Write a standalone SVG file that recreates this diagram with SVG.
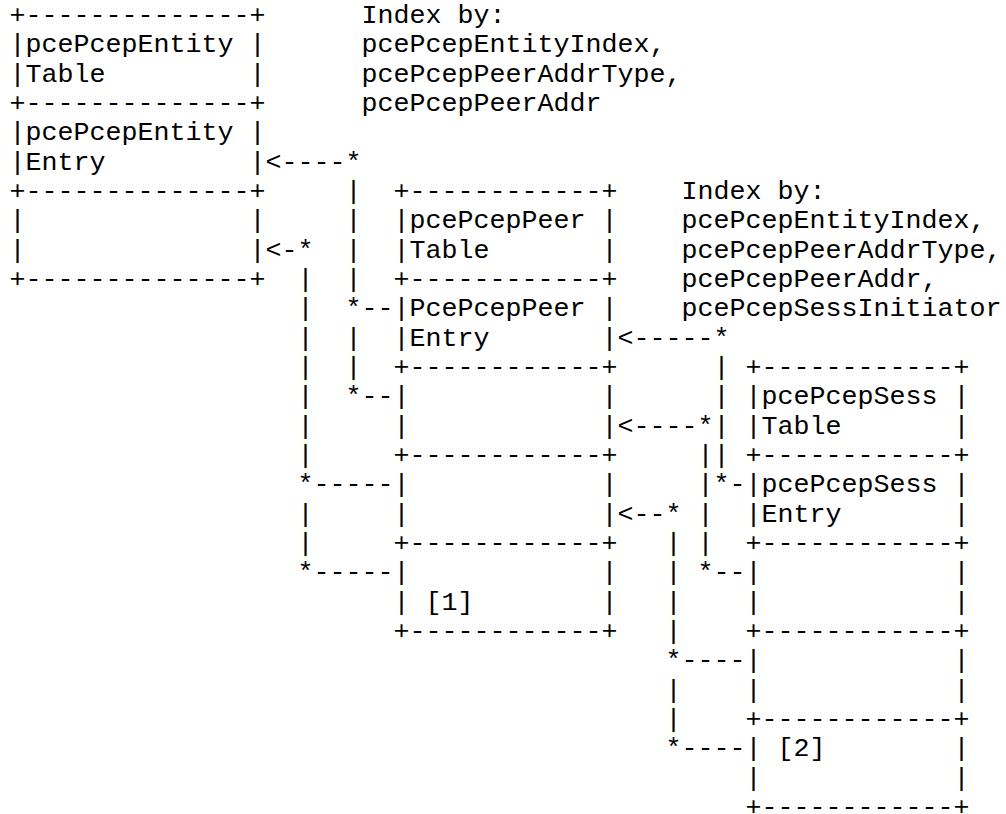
<svg xmlns="http://www.w3.org/2000/svg" width="1006" height="814" viewBox="0 0 1006 814">
<style>
text { font-family: "Liberation Mono", "DejaVu Sans Mono", monospace; font-size: 26.667px; fill: #000; white-space: pre; }
</style>
<rect width="1006" height="814" fill="#fff"/>
<g id="pcePcepEntityTable">
<text xml:space="preserve"><tspan x="9.5" y="23">+--------------+</tspan><tspan x="9.5" y="52.33">|pcePcepEntity |</tspan><tspan x="9.5" y="81.67">|Table         |</tspan><tspan x="9.5" y="111">+--------------+</tspan><tspan x="9.5" y="140.33">|pcePcepEntity |</tspan><tspan x="9.5" y="169.67">|Entry         |</tspan><tspan x="9.5" y="199">+--------------+</tspan><tspan x="9.5" y="228.33">|              |</tspan><tspan x="9.5" y="257.67">|              |</tspan><tspan x="9.5" y="287">+--------------+</tspan></text>
</g>
<g id="entityIndex">
<text xml:space="preserve"><tspan x="361.5" y="23">Index by:</tspan><tspan x="361.5" y="52.33">pcePcepEntityIndex,</tspan><tspan x="361.5" y="81.67">pcePcepPeerAddrType,</tspan><tspan x="361.5" y="111">pcePcepPeerAddr</tspan></text>
</g>
<g id="pcePcepPeerTable">
<text xml:space="preserve"><tspan x="393.5" y="199">+------------+</tspan><tspan x="393.5" y="228.33">|pcePcepPeer |</tspan><tspan x="393.5" y="257.67">|Table       |</tspan><tspan x="393.5" y="287">+------------+</tspan><tspan x="393.5" y="316.33">|PcePcepPeer |</tspan><tspan x="393.5" y="345.67">|Entry       |</tspan><tspan x="393.5" y="375">+------------+</tspan><tspan x="393.5" y="404.33">|            |</tspan><tspan x="393.5" y="433.67">|            |</tspan><tspan x="393.5" y="463">+------------+</tspan><tspan x="393.5" y="492.33">|            |</tspan><tspan x="393.5" y="521.67">|            |</tspan><tspan x="393.5" y="551">+------------+</tspan><tspan x="393.5" y="580.33">|            |</tspan><tspan x="393.5" y="609.67">| [1]        |</tspan><tspan x="393.5" y="639">+------------+</tspan></text>
</g>
<g id="peerIndex">
<text xml:space="preserve"><tspan x="681.5" y="199">Index by:</tspan><tspan x="681.5" y="228.33">pcePcepEntityIndex,</tspan><tspan x="681.5" y="257.67">pcePcepPeerAddrType,</tspan><tspan x="681.5" y="287">pcePcepPeerAddr,</tspan><tspan x="681.5" y="316.33">pcePcepSessInitiator</tspan></text>
</g>
<g id="pcePcepSessTable">
<text xml:space="preserve"><tspan x="745.5" y="375">+------------+</tspan><tspan x="745.5" y="404.33">|pcePcepSess |</tspan><tspan x="745.5" y="433.67">|Table       |</tspan><tspan x="745.5" y="463">+------------+</tspan><tspan x="745.5" y="492.33">|pcePcepSess |</tspan><tspan x="745.5" y="521.67">|Entry       |</tspan><tspan x="745.5" y="551">+------------+</tspan><tspan x="745.5" y="580.33">|            |</tspan><tspan x="745.5" y="609.67">|            |</tspan><tspan x="745.5" y="639">+------------+</tspan><tspan x="745.5" y="668.33">|            |</tspan><tspan x="745.5" y="697.67">|            |</tspan><tspan x="745.5" y="727">+------------+</tspan><tspan x="745.5" y="756.33">| [2]        |</tspan><tspan x="745.5" y="785.67">|            |</tspan><tspan x="745.5" y="815">+------------+</tspan></text>
</g>
<g id="connectors">
<text xml:space="preserve"><tspan x="265.5" y="169.67">&lt;----*</tspan><tspan x="345.5" y="199">|</tspan><tspan x="345.5" y="228.33">|</tspan><tspan x="345.5" y="257.67">|</tspan><tspan x="345.5" y="287">|</tspan><tspan x="345.5" y="316.33">*--</tspan><tspan x="345.5" y="345.67">|</tspan><tspan x="345.5" y="375">|</tspan><tspan x="345.5" y="404.33">*--</tspan></text>
<text xml:space="preserve"><tspan x="265.5" y="257.67">&lt;-*</tspan><tspan x="297.5" y="287">|</tspan><tspan x="297.5" y="316.33">|</tspan><tspan x="297.5" y="345.67">|</tspan><tspan x="297.5" y="375">|</tspan><tspan x="297.5" y="404.33">|</tspan><tspan x="297.5" y="433.67">|</tspan><tspan x="297.5" y="463">|</tspan><tspan x="297.5" y="492.33">*-----</tspan><tspan x="297.5" y="521.67">|</tspan><tspan x="297.5" y="551">|</tspan><tspan x="297.5" y="580.33">*-----</tspan></text>
<text xml:space="preserve"><tspan x="617.5" y="345.67">&lt;-----*</tspan><tspan x="713.5" y="375">|</tspan><tspan x="713.5" y="404.33">|</tspan><tspan x="713.5" y="433.67">|</tspan><tspan x="713.5" y="463">|</tspan><tspan x="713.5" y="492.33">*-</tspan></text>
<text xml:space="preserve"><tspan x="617.5" y="433.67">&lt;----*</tspan><tspan x="697.5" y="463">|</tspan><tspan x="697.5" y="492.33">|</tspan><tspan x="697.5" y="521.67">|</tspan><tspan x="697.5" y="551">|</tspan><tspan x="697.5" y="580.33">*--</tspan></text>
<text xml:space="preserve"><tspan x="617.5" y="521.67">&lt;--*</tspan><tspan x="665.5" y="551">|</tspan><tspan x="665.5" y="580.33">|</tspan><tspan x="665.5" y="609.67">|</tspan><tspan x="665.5" y="639">|</tspan><tspan x="665.5" y="668.33">*----</tspan><tspan x="665.5" y="697.67">|</tspan><tspan x="665.5" y="727">|</tspan><tspan x="665.5" y="756.33">*----</tspan></text>
</g>
</svg>
